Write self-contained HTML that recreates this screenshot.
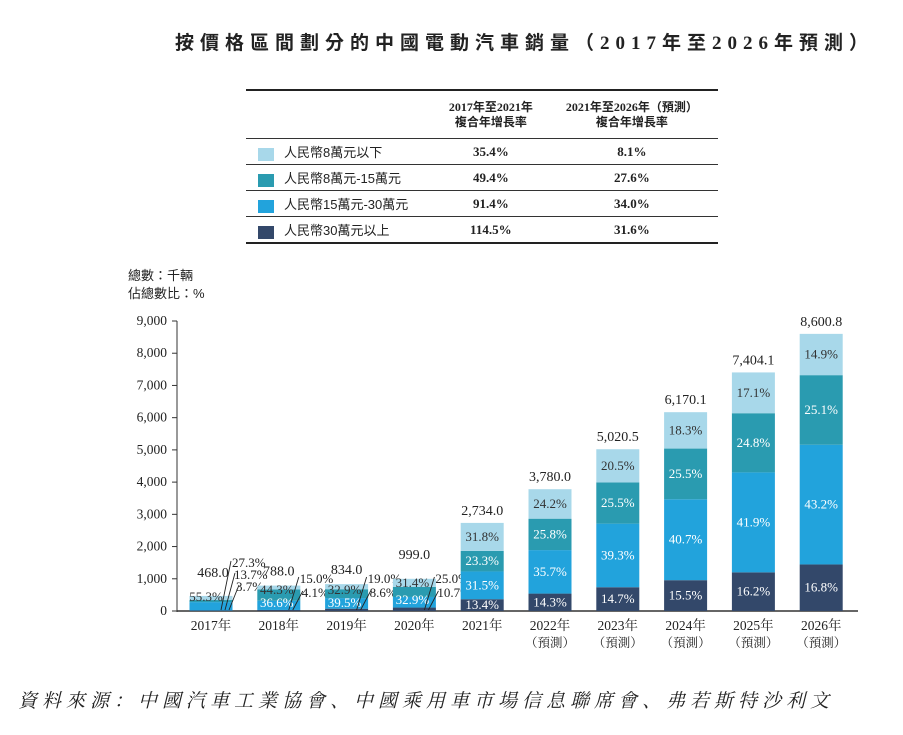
<!DOCTYPE html>
<html><head><meta charset="utf-8"><style>
body{margin:0;background:#fff;width:903px;height:735px;overflow:hidden;font-family:"Liberation Serif","Noto Serif CJK SC",serif;color:#222}
#title{position:absolute;left:175px;top:28px;white-space:nowrap;font-size:19px;font-weight:bold;letter-spacing:6.0px;font-family:"Liberation Serif","Noto Sans CJK TC",serif}
table{position:absolute;left:246px;top:89px;width:472px;border-collapse:collapse;font-size:13px}
td{border-bottom:1px solid #333;height:25px;padding:0}
.hd td{height:47px;font-weight:bold;text-align:center;line-height:15px;font-family:"Liberation Serif","Noto Sans CJK TC",serif;font-size:12px}
.v{text-align:center;font-weight:bold}
.sw{display:inline-block;width:16px;height:13px;vertical-align:middle;margin:0 10px 0 12px}
.lb{font-family:"Liberation Sans","Noto Sans CJK TC",sans-serif;font-size:13px}
#src{position:absolute;left:18px;top:686px;white-space:nowrap;font-size:19px;font-style:italic;letter-spacing:5.0px;font-family:"Liberation Serif","Noto Serif CJK SC",serif}
</style></head><body>
<div id="title">按價格區間劃分的中國電動汽車銷量（2017年至2026年預測）</div>
<table>
<tr class="hd"><td style="width:190px;border-top:2px solid #222"></td><td style="border-top:2px solid #222">2017年至2021年<br>複合年增長率</td><td style="border-top:2px solid #222">2021年至2026年（預測）<br>複合年增長率</td></tr>
<tr><td><span class="sw" style="background:#a8d8ea"></span><span class="lb">人民幣8萬元以下</span></td><td class="v">35.4%</td><td class="v">8.1%</td></tr>
<tr><td><span class="sw" style="background:#2a9bb0"></span><span class="lb">人民幣8萬元-15萬元</span></td><td class="v">49.4%</td><td class="v">27.6%</td></tr>
<tr><td><span class="sw" style="background:#22a3dc"></span><span class="lb">人民幣15萬元-30萬元</span></td><td class="v">91.4%</td><td class="v">34.0%</td></tr>
<tr><td style="border-bottom:2px solid #222"><span class="sw" style="background:#33486a"></span><span class="lb">人民幣30萬元以上</span></td><td class="v" style="border-bottom:2px solid #222">114.5%</td><td class="v" style="border-bottom:2px solid #222">31.6%</td></tr>
</table>
<svg id="chart" width="903" height="735" style="position:absolute;left:0;top:0"></svg>
<div id="src">資料來源：中國汽車工業協會、中國乘用車市場信息聯席會、弗若斯特沙利文</div>
<script>
const years=["2017年","2018年","2019年","2020年","2021年","2022年","2023年","2024年","2025年","2026年"];
const forecast=[false,false,false,false,false,true,true,true,true,true];
const totals=[468.0,788.0,834.0,999.0,2734.0,3780.0,5020.5,6170.1,7404.1,8600.8];
const pctOver30=[3.7,4.1,8.6,10.7,13.4,14.3,14.7,15.5,16.2,16.8];
const pct15to30=[55.3,36.6,39.5,32.9,31.5,35.7,39.3,40.7,41.9,43.2];
const pct8to15=[13.7,44.3,32.9,31.4,23.3,25.8,25.5,25.5,24.8,25.1];
const pctUnder8=[27.3,15.0,19.0,25.0,31.8,24.2,20.5,18.3,17.1,14.9];
const yTicks=[0,1000,2000,3000,4000,5000,6000,7000,8000,9000];
const colors=["#33486a","#22a3dc","#2a9bb0","#a8d8ea"];
const txtCol=["#fff","#fff","#fff","#333"];
const segNames=["over-30","15-30","8-15","under-8"];
const svg=document.getElementById('chart');const NS="http://www.w3.org/2000/svg";
const y0=611,y1=321,ax=177;
const yS=v=>y0-(v/9000)*(y0-y1);
const xC=i=>211+i*67.8;
const bw=43;
function el(t,a,p){const e=document.createElementNS(NS,t);for(const k in a)e.setAttribute(k,a[k]);(p||svg).appendChild(e);return e;}
function txt(x,y,s,o){const e=el('text',Object.assign({x:x,y:y,'font-size':13,'text-anchor':'middle','font-family':'"Liberation Serif","Noto Serif CJK SC",serif',fill:'#222'},o||{}));e.textContent=s;return e;}
let t=txt(128,280,"總數：千輛",{'text-anchor':'start','font-family':'"Liberation Sans","Noto Sans CJK TC",sans-serif','font-size':13});


t=txt(128,298,"佔總數比：%",{'text-anchor':'start','font-family':'"Liberation Sans","Noto Sans CJK TC",sans-serif','font-size':13});


yTicks.forEach(v=>{const y=yS(v);el('line',{x1:172,x2:ax,y1:y,y2:y,stroke:'#333'});
 const l=txt(167,y+4,v.toLocaleString('en-US'),{'text-anchor':'end','font-size':13.5});
 
 });
el('line',{x1:ax,x2:ax,y1:y1,y2:y0+1,stroke:'#333'});
el('line',{x1:ax,x2:858,y1:y0,y2:y0,stroke:'#333','stroke-width':1.5});
const series=[pctOver30,pct15to30,pct8to15,pctUnder8];
years.forEach((yr,i)=>{const cx=xC(i);let acc=0;const segs=[];
 series.forEach((s,k)=>{const v=totals[i]*s[i]/100;const ya=yS(acc),yb=yS(acc+v);
  const r=el('rect',{x:cx-bw/2,y:yb,width:bw,height:ya-yb,fill:colors[k]});
  
  
  segs.push([ya,yb]);acc+=v;});
 const top=yS(totals[i]);
 const off=i==0?19:(i<3?10:(i==3?20:8));
 const tl=txt(i==0?cx+2:cx,top-off,totals[i].toLocaleString('en-US',{minimumFractionDigits:1}),{'font-size':14});
 
 
 if(i>=4){series.forEach((s,k)=>{const m=(segs[k][0]+segs[k][1])/2;
   const l=txt(cx,m+4,s[i].toFixed(1)+'%',{fill:txtCol[k]});
   
   });}
 else{
  if(i==0){const l=txt(cx-5,601,pct15to30[i].toFixed(1)+'%',{fill:'#333'});
   
   }
  else{
   const a=txt(cx-2,i==3?587:594,pct8to15[i].toFixed(1)+'%',{fill:'#333'});
   
   
   const b=txt(cx-2,i==3?604:607,pct15to30[i].toFixed(1)+'%',{fill:'#fff'});
   
   }
  const calls=i==0?[[3,567],[2,579],[0,591]]:[[3,583],[0,597]];
  calls.forEach(([k,ly],j)=>{const lx=cx+20+j*2;
   el('line',{x1:cx+10+j*4,y1:y0-1,x2:lx+j*2,y2:ly-6,stroke:'#222','stroke-width':0.9});
   const l=txt(lx+1,ly,series[k][i].toFixed(1)+'%',{'text-anchor':'start'});
   
   });
 }
 const xl=txt(cx,630,yr,{'font-size':13.5});
 
 
 if(forecast[i]){const f=txt(cx,647,'（預測）',{'font-size':12.5});
  
  }
});
</script>
</body></html>
